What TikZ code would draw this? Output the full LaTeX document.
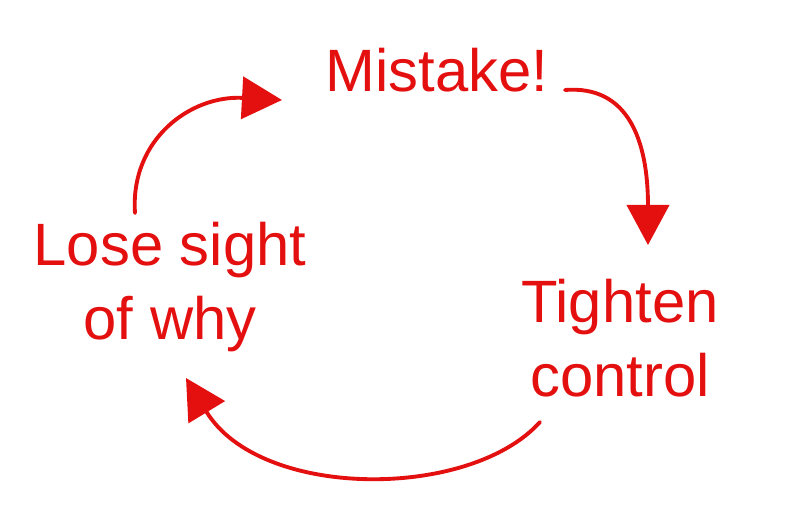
\documentclass[tikz,border=0pt]{standalone}
\usepackage{fontspec}
\setmainfont{Liberation Sans}
\usetikzlibrary{arrows.meta}
\definecolor{ink}{RGB}{228,16,16}
\begin{document}
\begin{tikzpicture}[x=0.01cm,y=-0.01cm,
  txt/.style={text=ink, font=\fontsize{17}{21}\selectfont, align=center, inner sep=0pt},
  conn/.style={draw=ink, line width=1.1pt, line cap=round, -{Triangle[length=0.4cm,width=0.42cm]}}]
\useasboundingbox (0,0) rectangle (808,511);
\node[txt] (mistake) at (437,70) {Mistake!};
\node[txt] (lose) at (170,287) {Lose sight\\of why};
\node[txt] (tight) at (620,338) {Tighten\\control};
\coordinate (a1s) at (135,213);
\coordinate (a1e) at (282,100);
\coordinate (a2s) at (565,90);
\coordinate (a2e) at (648,245);
\coordinate (a3s) at (540,422);
\coordinate (a3e) at (186,378);
\draw[conn] (a1s) .. controls (130,140) and (190,95) .. (a1e);
\draw[conn] (a2s) .. controls (628,85) and (648,140) .. (a2e);
\draw[conn] (a3s) .. controls (470,500) and (260,500) .. (a3e);
\end{tikzpicture}
\end{document}
